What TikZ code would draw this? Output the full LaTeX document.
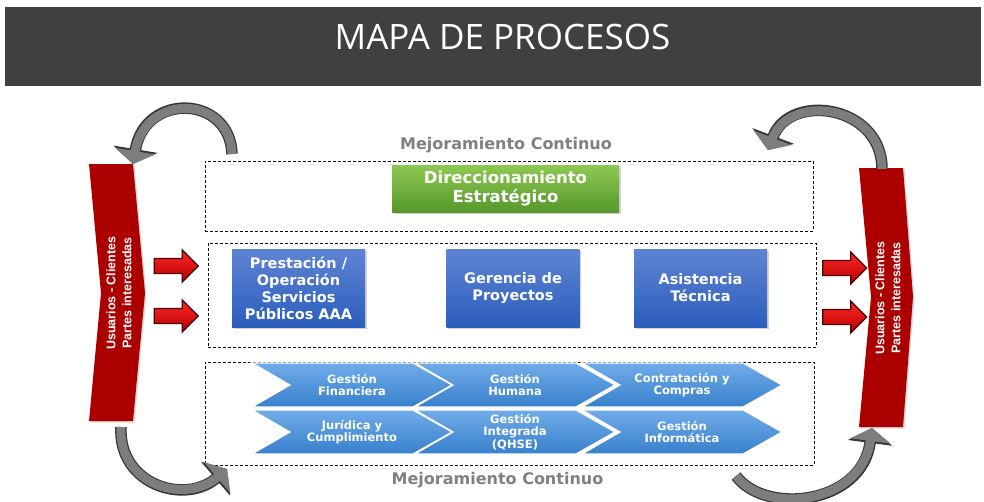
\documentclass[tikz,border=0pt]{standalone}
\usepackage{fontspec}
\setmainfont{DejaVu Sans}
\newfontfamily\fuentetitulo{Open Sans}
\newfontfamily\fuentebanda{Liberation Sans}
\usetikzlibrary{shapes,shapes.arrows,positioning,arrows.meta,fit,calc,shadows}
\pgfdeclarelayer{background}
\pgfsetlayers{background,main}
\definecolor{barra}{RGB}{64,64,64}
\definecolor{rojo}{RGB}{172,0,0}
\definecolor{gris}{RGB}{128,128,128}

\begin{document}
\begin{tikzpicture}[x=1pt, y=-1pt,
						marco/.style={draw, dash pattern=on 3pt off 2pt, line width=0.8pt, inner sep=0pt},
						mejora/.style={text=gris, font=\bfseries\fontsize{16}{18}\selectfont},
						verde/.style={top color={rgb,255:red,142;green,200;blue,82}, bottom color={rgb,255:red,86;green,152;blue,42},
							text=white, align=center, font=\bfseries\fontsize{16.5}{19}\selectfont, inner sep=0pt,
							drop shadow={shadow xshift=1.5pt, shadow yshift=-1.5pt, opacity=0.35}},
						azul/.style={top color={rgb,255:red,94;green,132;blue,212}, bottom color={rgb,255:red,44;green,94;blue,188},
							text=white, align=center, font=\bfseries\fontsize{14.5}{17}\selectfont, inner sep=0pt,
							minimum width=133pt, minimum height=78pt,
							drop shadow={shadow xshift=1.5pt, shadow yshift=-1.5pt, opacity=0.35}},
						chevron/.style={top color={rgb,255:red,112;green,172;blue,232}, bottom color={rgb,255:red,56;green,128;blue,204},
							draw=white, line width=1.2pt},
						chevtexto/.style={text=white, align=center, font=\bfseries\fontsize{11.5}{12.5}\selectfont, inner sep=0pt},
						banda/.style={fill=rojo, drop shadow={shadow xshift=1.5pt, shadow yshift=-1.5pt, opacity=0.3}},
						bandatexto/.style={text=white, align=center, rotate=90, font=\fuentebanda\bfseries\fontsize{12.5}{16}\selectfont},
						flecha/.style={single arrow, draw={rgb,255:red,70;green,0;blue,0}, line width=1.2pt,
							top color={rgb,255:red,255;green,40;blue,40}, bottom color={rgb,255:red,180;green,0;blue,0},
							minimum height=44pt, inner xsep=0pt, inner ysep=7pt, single arrow head extend=8.5pt},
						ciclo/.style={line width=9pt, draw={rgb,255:red,125;green,125;blue,125}, -{Triangle[length=13pt,width=40pt]},
							preaction={draw={rgb,255:red,55;green,55;blue,55}, line width=11.5pt, -{Triangle[length=15pt,width=44pt]}}}]
						\useasboundingbox (0,0) rectangle (984,501);

						% titulo
						\node[fill=barra, inner sep=0pt, minimum width=976pt, minimum height=79pt] (barra) at (493,46.5) {};
						\node[text=white, font=\fuentetitulo\fontsize{35}{40}\selectfont] (titulo) at (502.5,37) {MAPA DE PROCESOS};

						% marcos punteados
						\node[marco, fit={(205,161) (813,231)}] (estrategico) {};
						\node[marco, fit={(208,243) (816,347)}] (misional) {};
						\node[marco, fit={(205,362) (814,465)}] (apoyo) {};
						\node[mejora] (mejoraA) at (506,145) {Mejoramiento Continuo};
						\node[mejora] (mejoraB) at (497.5,480) {Mejoramiento Continuo};

						% procesos
						\node[verde, minimum width=227pt, minimum height=47pt] (direccion) at (505.5,188.5) {Direccionamiento\\Estratégico};
						\node[azul] (prestacion) at (298.5,288) {Prestación /\\Operación\\Servicios\\Públicos AAA};
						\node[azul] (gerencia) at (513,288) {Gerencia de\\Proyectos};
						\node[azul] (asistencia) at (700.5,288) {Asistencia\\Técnica};

						\foreach \x/\y/\nombre/\texto in {252/363/financiera/{Gestión\\Financiera},
								415/363/humana/{Gestión\\Humana},
								582/363/compras/{Contratación y\\Compras},
								252/410/juridica/{Jurídica y\\Cumplimiento},
								415/410/integrada/{Gestión\\Integrada\\(QHSE)},
								582/410/informatica/{Gestión\\Informática}}{
							\path[chevron] (\x,\y) -- ++(161,0) -- ++(39,22) -- ++(-39,22) -- ++(-161,0) -- ++(38,-22) -- cycle;
							\node[chevtexto] (\nombre) at (\x+100,\y+22) {\texto};
						}

						% partes interesadas
						\path[banda] (89,164) -- (133,164) -- (145,293) -- (133,421) -- (89,421) -- (101,293) -- cycle;
						\path[banda] (859,168) -- (903,168) -- (913,297) -- (903,427) -- (859,427) -- (871,297) -- cycle;
						\node[bandatexto] (clientesI) at (119,293) {Usuarios - Clientes\\Partes interesadas};
						\node[bandatexto] (clientesD) at (888,298) {Usuarios - Clientes\\Partes interesadas};

						\node[flecha] (entrada1) at (172.5,266) {};
						\node[flecha] (entrada2) at (172.5,316) {};
						\node[flecha] (salida1) at (841,268) {};
						\node[flecha] (salida2) at (841,317) {};

						% ciclos
						\coordinate (cicloA) at (232,154);
						\coordinate (cicloB) at (133,164);
						\coordinate (cicloC) at (882,169);
						\coordinate (cicloD) at (768,150);
						\coordinate (cicloE) at (121,427);
						\coordinate (cicloF) at (227,469);
						\coordinate (cicloG) at (736,476);
						\coordinate (cicloH) at (872,428);
						\draw[ciclo] (cicloA) .. controls (230,95) and (145,92) .. (cicloB);
						\draw[ciclo] (cicloC) .. controls (882,105) and (790,92) .. (cicloD);
						\draw[ciclo] (cicloE) .. controls (118,485) and (185,505) .. (cicloF);
						\draw[ciclo] (cicloG) .. controls (765,515) and (862,505) .. (cicloH);
					\end{tikzpicture}
\end{document}
